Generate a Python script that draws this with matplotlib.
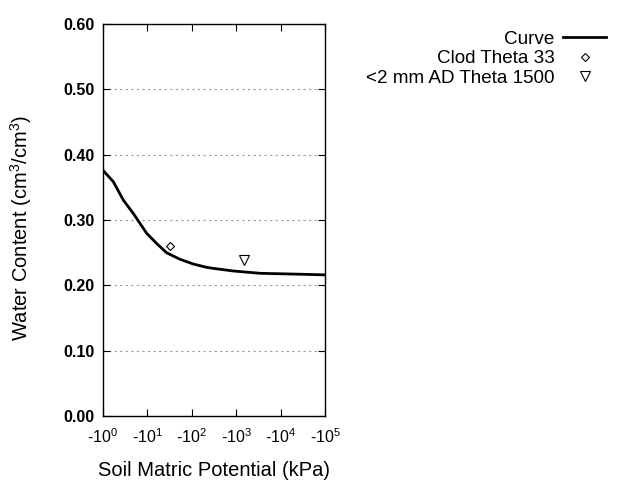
import numpy as np
import matplotlib.pyplot as plt
from matplotlib.ticker import FuncFormatter, FixedLocator

plt.rcParams['font.family'] = ['Liberation Sans', 'DejaVu Sans']
plt.rcParams['mathtext.default'] = 'regular'

# Retention curve (suction in kPa, water content)
curve_kpa = [1.0, 1.71, 2.86, 4.82, 6.81, 9.64, 16.2, 26.9, 53.7, 107, 214, 302, 851, 3470, 27500, 100000]
curve_theta = [0.376, 0.3586, 0.3306, 0.310, 0.2948, 0.2796, 0.264, 0.250, 0.240, 0.2327, 0.2276, 0.226, 0.222, 0.2184, 0.217, 0.216]

# Measured points
clod_kpa = [33]
clod_theta = [0.26]
ad_kpa = [1500]
ad_theta = [0.239]

fig = plt.figure(figsize=(6.4, 4.8), dpi=100)
ax = fig.add_axes([103 / 640, 64 / 480, 222 / 640, 392 / 480])

ax.plot(curve_kpa, curve_theta, color='black', lw=2, label='Curve')
ax.plot(clod_kpa, clod_theta, ls='none', marker='D', ms=4.5, mfc='white', mec='black', mew=0.8,
        label='Clod Theta 33')
ax.plot(ad_kpa, ad_theta, ls='none', marker='v', ms=7, mfc='white', mec='black', mew=0.8,
        label='<2 mm AD Theta 1500')

ax.set_xscale('log')
ax.set_xlim(1, 1e5)
ax.set_ylim(0, 0.6)
ax.xaxis.set_major_locator(FixedLocator([1, 10, 100, 1e3, 1e4, 1e5]))
ax.xaxis.set_minor_locator(FixedLocator([]))
ax.xaxis.set_major_formatter(FuncFormatter(lambda v, p: '-10$^{%d}$' % round(np.log10(v))))
ax.set_yticks(np.arange(0, 0.61, 0.1))
ax.yaxis.set_major_formatter(FuncFormatter(lambda v, p: '%.2f' % v))

ax.tick_params(direction='in', length=5, top=True, right=True, labelsize=11.5, pad=8)
for lab in ax.get_yticklabels():
    lab.set_fontweight('bold')
ax.tick_params(axis='y', pad=6)

for y in np.arange(0.1, 0.55, 0.1):
    ax.axhline(y, color='#999999', ls=(0, (2, 3)), lw=0.8, zorder=0)

for s in ax.spines.values():
    s.set_linewidth(1)

ax.set_xlabel('Soil Matric Potential (kPa)', fontsize=14.5, labelpad=11)
ax.set_ylabel('Water Content (cm$^3$/cm$^3$)', fontsize=14.5, labelpad=21)
ax.yaxis.label.set_y(0.48)

fig.legend(loc='upper right', bbox_to_anchor=(614 / 640, 1 - 23 / 480), frameon=False,
           markerfirst=False, fontsize=13.6, handlelength=2.3, handletextpad=0.45,
           labelspacing=0.12, borderaxespad=0)

fig.savefig('out.png', dpi=100)
